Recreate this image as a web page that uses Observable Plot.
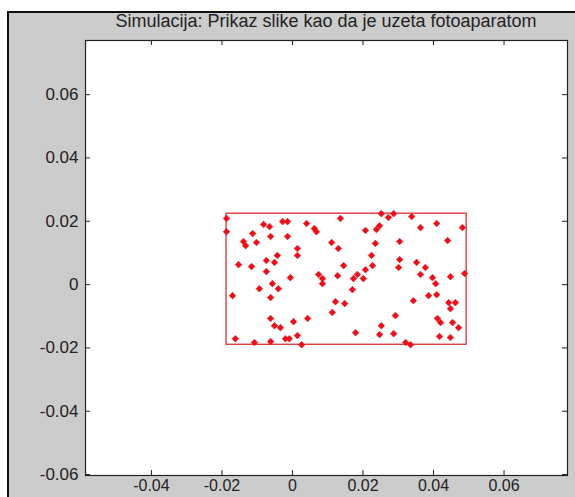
<!DOCTYPE html>
<html>
<head>
<meta charset="utf-8">
<script src="https://cdn.jsdelivr.net/npm/d3@7"></script>
<script src="https://cdn.jsdelivr.net/npm/@observablehq/plot@0.6"></script>
<style>
  html, body { margin: 0; padding: 0; background: #ffffff; }
  #wrap { position: relative; width: 575px; height: 497px; overflow: hidden; }
  #fig { position: absolute; left: 7px; top: 11px; width: 600px; height: 520px;
         background: #cccccc; border-left: 2px solid #111; border-top: 2px solid #111; }
  #title { position: absolute; left: 60px; width: 532px; top: 12px; text-align: center;
           font-family: "Liberation Sans", Arial, sans-serif; font-size: 18px; line-height: 18px; color: #222; }
  #chart { position: absolute; left: 0; top: 0; }
</style>
</head>
<body>
<div id="wrap">
  <div id="fig"></div>
  <div id="chart"></div>
  <div id="title">Simulacija: Prikaz slike kao da je uzeta fotoaparatom</div>
</div>
<script>
const titleText = "Simulacija: Prikaz slike kao da je uzeta fotoaparatom";
const xTicks = [-0.04, -0.02, 0, 0.02, 0.04, 0.06];
const yTicks = [-0.06, -0.04, -0.02, 0, 0.02, 0.04, 0.06];
const xDomain = [-0.0587, 0.078];
const yDomain = [-0.0603, 0.0771];

// image rectangle (camera frame)
const rectX = [-0.0187, 0.0494];
const rectY = [-0.0190, 0.0224];

// projected points
const px = [
  -0.0187, -0.0187, -0.0082, -0.0065, -0.0028, -0.0014, 0.0040, 0.0062, 0.0068, 0.0136,
  -0.0113, -0.0062, -0.0014, -0.0139, -0.0133, -0.0102, 0.0111, 0.0130, 0.0014, 0.0014,
  -0.0043, -0.0051, -0.0074, -0.0153, -0.0116, -0.0074, -0.0006, 0.0074, 0.0085, 0.0128,
  0.0145, 0.0085, -0.0057, -0.0094, -0.0040, -0.0170, -0.0062, 0.0122, 0.0148, 0.0113,
  -0.0062, 0.0003, 0.0043, -0.0051, -0.0034, 0.0014, -0.0162, -0.0108, -0.0062, -0.0020,
  -0.0009, 0.0026, 0.0252, 0.0272, 0.0287, 0.0338, 0.0409, 0.0363, 0.0482, 0.0207,
  0.0238, 0.0247, 0.0235, 0.0304, 0.0440, 0.0224, 0.0304, 0.0352, 0.0227, 0.0301,
  0.0377, 0.0207, 0.0184, 0.0363, 0.0397, 0.0448, 0.0488, 0.0173, 0.0201, 0.0406,
  0.0170, 0.0386, 0.0409, 0.0343, 0.0443, 0.0462, 0.0448, 0.0292, 0.0411, 0.0420,
  0.0454, 0.0252, 0.0471, 0.0179, 0.0247, 0.0287, 0.0417, 0.0448, 0.0321, 0.0335
];
const py = [
  0.0209, 0.0167, 0.0190, 0.0183, 0.0199, 0.0199, 0.0193, 0.0177, 0.0167, 0.0209,
  0.0161, 0.0152, 0.0152, 0.0136, 0.0123, 0.0133, 0.0133, 0.0114, 0.0114, 0.0092,
  0.0092, 0.0070, 0.0076, 0.0063, 0.0057, 0.0041, 0.0022, 0.0032, 0.0019, 0.0028,
  0.0060, 0.0003, 0.0003, -0.0013, -0.0013, -0.0035, -0.0041, -0.0054, -0.0060, -0.0088,
  -0.0107, -0.0117, -0.0107, -0.0130, -0.0136, -0.0161, -0.0171, -0.0183, -0.0180, -0.0171,
  -0.0171, -0.0190, 0.0224, 0.0212, 0.0224, 0.0215, 0.0193, 0.0180, 0.0180, 0.0171,
  0.0174, 0.0186, 0.0130, 0.0136, 0.0139, 0.0092, 0.0079, 0.0070, 0.0060, 0.0054,
  0.0054, 0.0047, 0.0032, 0.0032, 0.0022, 0.0025, 0.0035, 0.0019, 0.0019, 0.0003,
  -0.0016, -0.0035, -0.0032, -0.0051, -0.0057, -0.0057, -0.0076, -0.0098, -0.0107, -0.0120,
  -0.0120, -0.0130, -0.0136, -0.0152, -0.0158, -0.0155, -0.0164, -0.0167, -0.0183, -0.0190
];

const points = px.map((x, i) => ({x, y: py[i]}));
const rects = [{x1: rectX[0], x2: rectX[1], y1: rectY[0], y2: rectY[1]}];
const fmt = d => String(+d.toFixed(2));

const W = 575, H = 497, mL = 85, mR = 8, mT = 40, mB = 22;
const fw = W - mL - mR, fh = H - mT - mB, tk = 5;

const chart = Plot.plot({
  width: W, height: H,
  marginLeft: mL, marginRight: mR, marginTop: mT, marginBottom: mB,
  x: {domain: xDomain},
  y: {domain: yDomain},
  style: {background: "transparent", fontFamily: "'Liberation Sans', Arial, sans-serif", fontSize: "17px", color: "#222"},
  marks: [
    Plot.frame({fill: "white", stroke: "none"}),
    Plot.rect(rects, {x1: "x1", x2: "x2", y1: "y1", y2: "y2", fill: "none", stroke: "#d81e1e", strokeWidth: 1.2}),
    Plot.dot(points, {x: "x", y: "y", symbol: "diamond2", r: 3, fill: "#e8101a", stroke: "#e8101a", strokeWidth: 0.6}),
    Plot.axisX(xTicks, {anchor: "bottom", tickSize: 0, tickPadding: 4, tickFormat: fmt, label: null, fill: "#222", fontSize: 16}),
    Plot.axisY(yTicks, {anchor: "left", tickSize: 0, tickPadding: 7, tickFormat: fmt, label: null, fill: "#222"}),
    Plot.tickX(xTicks, {x: d => d, insetTop: fh - tk, stroke: "#222"}),
    Plot.tickX(xTicks, {x: d => d, insetBottom: fh - tk, stroke: "#222"}),
    Plot.tickY(yTicks, {y: d => d, insetRight: fw - tk, stroke: "#222"}),
    Plot.tickY(yTicks, {y: d => d, insetLeft: fw - tk, stroke: "#222"}),
    Plot.frame({stroke: "#222", strokeWidth: 1.2})
  ]
});
document.getElementById("chart").appendChild(chart);
document.getElementById("title").textContent = titleText;
</script>
</body>
</html>
